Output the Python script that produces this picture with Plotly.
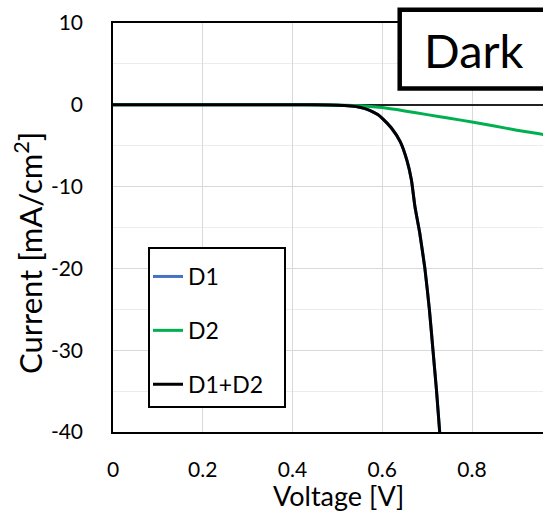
import plotly.graph_objects as go

# ---- data ----
v_black = [0.0, 0.1, 0.2, 0.3, 0.4, 0.45, 0.50, 0.53, 0.55, 0.572, 0.59, 0.60, 0.62, 0.64,
           0.655, 0.665, 0.673, 0.683, 0.695, 0.705, 0.713, 0.721, 0.728, 0.75]
i_d1 = [0, 0, 0, 0, 0, 0, -0.04, -0.15, -0.3, -0.67, -1.2, -1.65, -2.8, -4.5,
        -6.8, -9.2, -12.5, -15.5, -20, -25, -30, -35, -40, -55]
i_d1d2 = [0, 0, 0, 0, 0, 0, -0.04, -0.15, -0.3, -0.67, -1.2, -1.65, -2.8, -4.5,
          -6.8, -9.2, -12.5, -15.5, -20, -25, -30, -35, -40, -55]

v_green = [0.0, 0.1, 0.2, 0.3, 0.4, 0.45, 0.5, 0.52, 0.55, 0.58, 0.6, 0.65, 0.7,
           0.75, 0.8, 0.85, 0.9, 0.95, 1.0]
i_d2 = [0, 0, 0, 0, 0, -0.01, -0.03, -0.06, -0.13, -0.24, -0.34, -0.75, -1.2,
        -1.65, -2.1, -2.6, -3.1, -3.55, -4.05]

x_ticks = [0, 0.2, 0.4, 0.6, 0.8]
x_tick_labels = ["0", "0.2", "0.4", "0.6", "0.8"]
y_ticks = [10, 0, -10, -20, -30, -40]
y_tick_labels = ["10", "0", "-10", "-20", "-30", "-40"]

FONT = "Lato"
W, H = 543, 512
L, R, T, B = 113, 0, 23, 80

fig = go.Figure()
fig.add_trace(go.Scatter(x=v_black, y=i_d1, mode="lines", name="D1",
                         line=dict(color="#4472C4", width=3, shape="spline", smoothing=0.5),
                         legendgroup="a"))
fig.add_trace(go.Scatter(x=v_green, y=i_d2, mode="lines", name="D2",
                         line=dict(color="#00B050", width=3, shape="spline", smoothing=0.5),
                         legendgroup="b"))
fig.add_trace(go.Scatter(x=v_black, y=i_d1d2, mode="lines", name="D1+D2",
                         line=dict(color="#000000", width=3, shape="spline", smoothing=0.5),
                         legendgroup="c"))

pw = W - L - R
ph = H - T - B


def px2x(px):
    return (px - L) / pw


def py2y(py):
    return (H - B - py) / ph


fig.update_layout(
    width=W, height=H,
    margin=dict(l=L, r=R, t=T, b=B, pad=0),
    paper_bgcolor="white", plot_bgcolor="white",
    font=dict(family=FONT, color="#000000"),
    showlegend=True,
    legend=dict(
        x=px2x(148), y=py2y(255), xanchor="left", yanchor="top",
        borderwidth=0, bgcolor="rgba(0,0,0,0)",
        font=dict(size=23, family=FONT),
        traceorder="grouped", tracegroupgap=21,
    ),
    xaxis=dict(
        range=[0, (W - L) / 448.75], tickvals=x_ticks, ticktext=x_tick_labels,
        showgrid=True, gridcolor="#d9d9d9", gridwidth=1,
        showline=True, linecolor="black", linewidth=1.5, mirror=True,
        zeroline=False, ticks="", ticklabelstandoff=18,
        tickfont=dict(size=21, family=FONT),
    ),
    yaxis=dict(
        range=[-40, 10], tickvals=y_ticks, ticktext=y_tick_labels,
        showgrid=True, gridcolor="#d9d9d9", gridwidth=1,
        minor=dict(dtick=5, showgrid=True, gridcolor="#ececec", gridwidth=1),
        showline=True, linecolor="black", linewidth=1.5, mirror=False,
        zeroline=True, zerolinecolor="#222222", zerolinewidth=1.5,
        ticks="", ticklabelstandoff=24,
        tickfont=dict(size=21, family=FONT),
    ),
)

# legend frame
fig.add_shape(type="rect", xref="paper", yref="paper",
              x0=px2x(149), x1=px2x(285), y0=py2y(407), y1=py2y(248),
              line=dict(color="black", width=2), fillcolor="white", layer="above")

# "Dark" box
fig.add_shape(type="rect", xref="paper", yref="paper",
              x0=px2x(399.7), x1=px2x(570), y0=py2y(88.5), y1=py2y(9.8),
              line=dict(color="black", width=4.5), fillcolor="white", layer="above")
fig.add_annotation(xref="paper", yref="paper", x=px2x(422), y=py2y(50),
                   xanchor="left", yanchor="middle", text="Dark", showarrow=False,
                   font=dict(size=47, family=FONT, color="black"))

# axis titles
fig.add_annotation(xref="paper", yref="paper", x=px2x(338), y=py2y(495),
                   xanchor="center", yanchor="middle", text="Voltage [V]", showarrow=False,
                   font=dict(size=27, family=FONT, color="black"))
fig.add_annotation(xref="paper", yref="paper", x=px2x(28), y=py2y(253),
                   xanchor="center", yanchor="middle", text="Current [mA/cm<sup>2</sup>]",
                   textangle=-90, showarrow=False,
                   font=dict(size=31, family=FONT, color="black"))

fig.write_html("out.html", config={"displayModeBar": False},
               post_script="document.body.style.margin='0';")
